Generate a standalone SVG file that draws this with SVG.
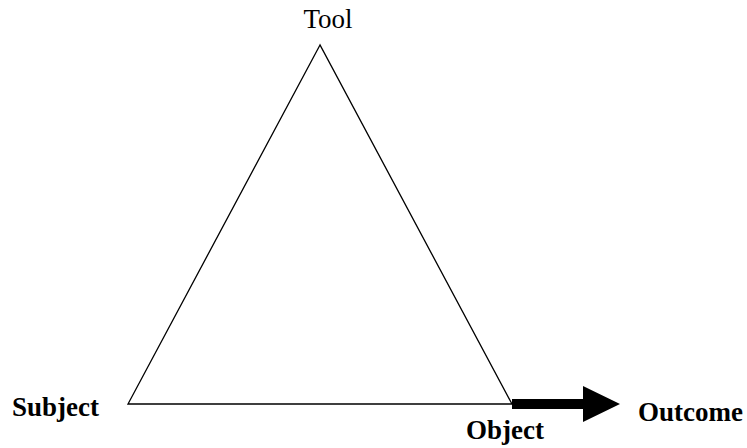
<svg xmlns="http://www.w3.org/2000/svg" width="747" height="448" viewBox="0 0 747 448">
<style>
.lbl{font-family:"Liberation Serif","Times New Roman",serif;font-size:27px;fill:#000}
.b{font-weight:bold}
.edge{fill:none;stroke:#000;stroke-width:1.3}
</style>
<rect width="747" height="448" fill="#fff"/>
<g id="connectors">
<polygon class="edge" points="320,45 128,404 512,404"/>
<path d="M512,399 H583 V386 L620,404 L583,422 V409 H512 Z" fill="#000"/>
</g>
<g id="node-tool"><text class="lbl" x="328" y="28" text-anchor="middle">Tool</text></g>
<g id="node-subject"><text class="lbl b" x="12" y="416">Subject</text></g>
<g id="node-object"><text class="lbl b" x="466" y="439">Object</text></g>
<g id="node-outcome"><text class="lbl b" x="638" y="421">Outcome</text></g>
</svg>
